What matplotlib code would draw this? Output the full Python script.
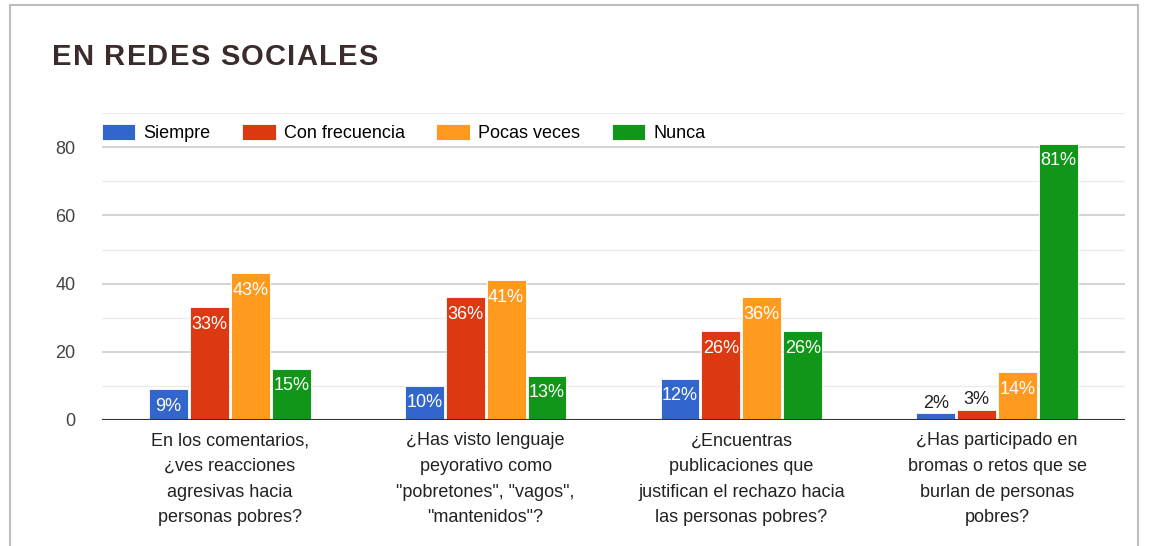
import matplotlib.pyplot as plt
import numpy as np
from matplotlib.patches import Rectangle

plt.rcParams["font.family"] = ["Liberation Sans", "DejaVu Sans"]

# -----------------------------
# Data
# -----------------------------
TITLE = "EN REDES SOCIALES"
questions = [
    "En los comentarios,\n¿ves reacciones\nagresivas hacia\npersonas pobres?",
    "¿Has visto lenguaje\npeyorativo como\n\"pobretones\", \"vagos\",\n\"mantenidos\"?",
    "¿Encuentras\npublicaciones que\njustifican el rechazo hacia\nlas personas pobres?",
    "¿Has participado en\nbromas o retos que se\nburlan de personas\npobres?",
]
series_names = ["Siempre", "Con frecuencia", "Pocas veces", "Nunca"]
siempre = [9, 10, 12, 2]
con_frecuencia = [33, 36, 26, 3]
pocas_veces = [43, 41, 36, 14]
nunca = [15, 13, 26, 81]
colors = ["#3366cc", "#dc3912", "#ff9a1f", "#109618"]


def draw_spaced_title(fig, text, x0, y, tracking_px, **kw):
    """Draw text one character at a time so the letters get extra spacing."""
    renderer = fig.canvas.get_renderer()
    x = x0
    for ch in text:
        t = fig.text(x / fig.bbox.width, y, ch, ha="left", va="center", **kw)
        w = t.get_window_extent(renderer).width
        if ch == " ":
            w = t.get_fontsize() * 100 / 72 * 0.28
        x += w + tracking_px


def main() -> None:
    fig = plt.figure(figsize=(11.49, 5.46), dpi=100)
    ax = fig.add_axes([0.0888, 0.2308, 0.8903, 0.562])

    # outer frame of the card
    fig.patches.append(Rectangle((10 / 1149, -0.02), 1128 / 1149, 1.02 - 5 / 546,
                                 transform=fig.transFigure, fill=False,
                                 edgecolor="#bdbdbd", linewidth=1.5))

    draw_spaced_title(fig, TITLE, 52, 1 - 57 / 546, 1.2, fontsize=21,
                      fontweight="bold", color="#3b2b2b")

    x = np.arange(len(questions))
    width = 0.152
    all_series = [siempre, con_frecuencia, pocas_veces, nunca]
    for i, (name, vals, col) in enumerate(zip(series_names, all_series, colors)):
        pos = x + (i - 1.5) * (width + 0.008)
        bars = ax.bar(pos, vals, width=width, color=col, label=name,
                      edgecolor="white", linewidth=0.6, zorder=3)
        for b, v in zip(bars, vals):
            cx = b.get_x() + b.get_width() / 2
            if v >= 8:
                ax.annotate(f"{v}%", (cx, v), xytext=(0, -6), textcoords="offset points",
                            ha="center", va="top", fontsize=13, color="white", zorder=4)
            else:
                ax.annotate(f"{v}%", (cx, v), xytext=(0, 1), textcoords="offset points",
                            ha="center", va="bottom", fontsize=13, color="#222222", zorder=4)

    ax.set_xlim(-0.5, len(questions) - 0.5)
    ax.set_ylim(0, 90)
    ax.set_yticks([0, 20, 40, 60, 80])
    ax.set_yticks([10, 30, 50, 70, 90], minor=True)
    ax.tick_params(axis="y", which="both", length=0, pad=19, labelsize=13, labelcolor="#444444")
    ax.grid(axis="y", which="major", color="#cccccc", linewidth=1.2, zorder=0)
    ax.grid(axis="y", which="minor", color="#ebebeb", linewidth=1.0, zorder=0)
    ax.axhline(0, color="#333333", linewidth=1.5, zorder=5)

    ax.set_xticks(x)
    ax.set_xticklabels(questions, fontsize=13, color="#222222", linespacing=1.66)
    ax.tick_params(axis="x", length=0, pad=9)

    for s in ax.spines.values():
        s.set_visible(False)

    ax.legend(loc="center left", bbox_to_anchor=(0.0, 0.935), ncol=4, frameon=False,
              fontsize=13, handlelength=1.85, handleheight=0.95, handletextpad=0.45,
              columnspacing=1.75, borderaxespad=0, borderpad=0)

    fig.savefig("out.png", dpi=100)
    plt.close(fig)


if __name__ == "__main__":
    main()
